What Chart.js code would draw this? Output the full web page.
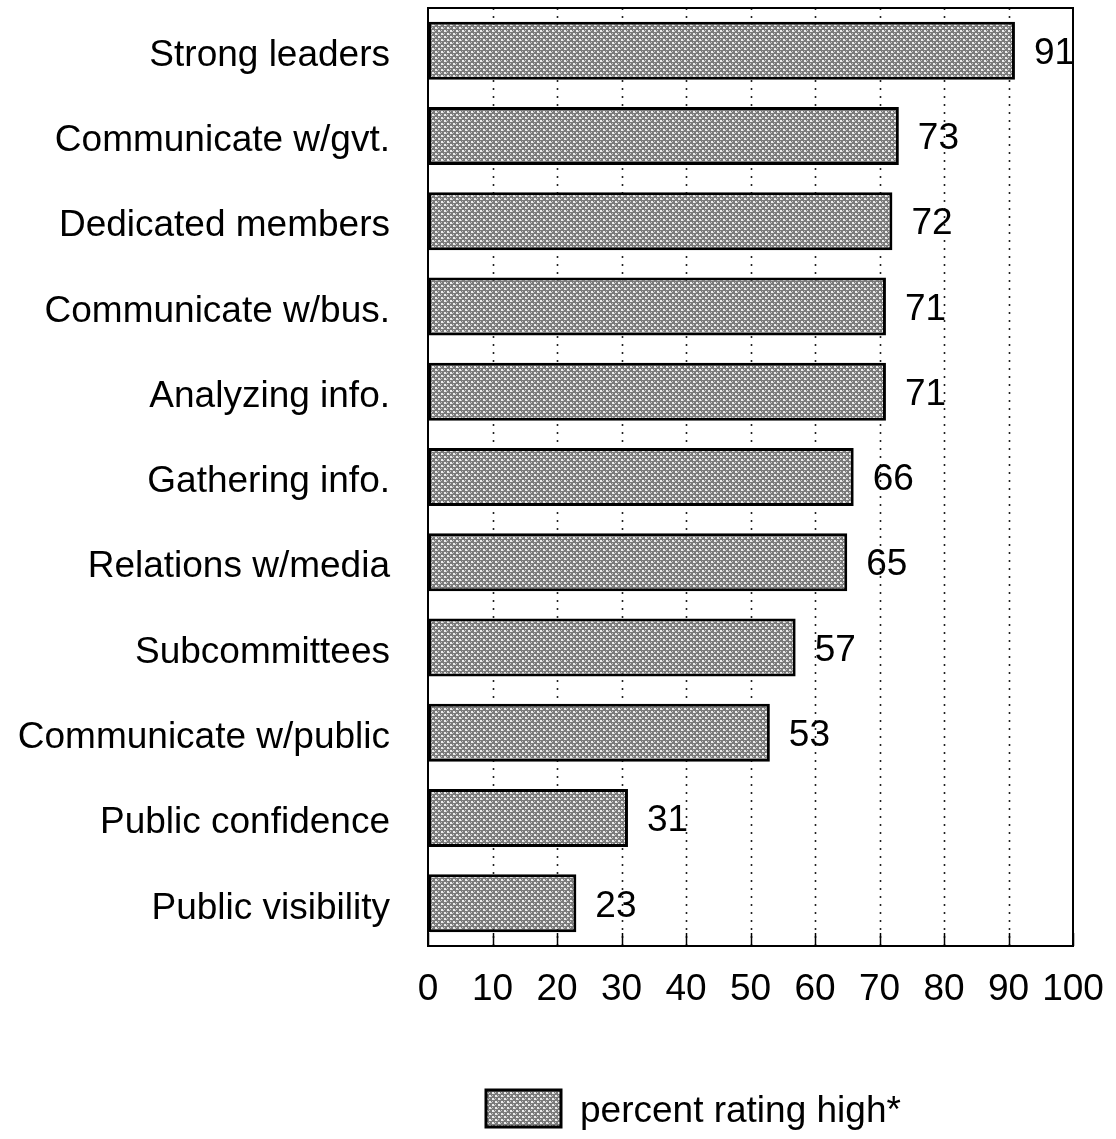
<!DOCTYPE html>
<html>
<head>
<meta charset="utf-8">
<script src="https://cdn.jsdelivr.net/npm/chart.js@4.4.0/dist/chart.umd.min.js"></script>
<style>
  html, body { margin: 0; padding: 0; background: #fff; }
  canvas { display: block; }
</style>
</head>
<body>
<canvas id="ratingChart" width="1116" height="1139"></canvas>
<script>
"use strict";

let categories = [
    "Strong leaders",
    "Communicate w/gvt.",
    "Dedicated members",
    "Communicate w/bus.",
    "Analyzing info.",
    "Gathering info.",
    "Relations w/media",
    "Subcommittees",
    "Communicate w/public",
    "Public confidence",
    "Public visibility"
];
let percentHigh = [91, 73, 72, 71, 71, 66, 65, 57, 53, 31, 23];
let xTicks = [0, 10, 20, 30, 40, 50, 60, 70, 80, 90, 100];
let seriesLabel = "percent rating high*";

let fontFamily = "'Liberation Sans', Arial, Helvetica, sans-serif";
let fontSize = 37;

// halftone grey used for the bars and the legend swatch
function MakeHalftone() {
    let tile = document.createElement("canvas");
    tile.width = 6;
    tile.height = 6;
    let t = tile.getContext("2d");
    t.fillStyle = "#7a7a7a";
    t.fillRect(0, 0, 6, 6);
    t.fillStyle = "#ececec";
    t.fillRect(0, 0, 2, 2);
    t.fillRect(3, 3, 2, 2);
    t.fillStyle = "#c4c4c4";
    t.fillRect(3, 0, 1, 1);
    t.fillRect(0, 3, 1, 1);
    t.fillRect(2, 1, 1, 1);
    t.fillRect(5, 4, 1, 1);
    return document.getElementById("ratingChart").getContext("2d").createPattern(tile, "repeat");
}

let halftone = MakeHalftone();

// dotted verticals, plot frame, inner tick marks, value labels and legend
let decorations = {
    id: "decorations",
    beforeDatasetsDraw(chart) {
        let ctx = chart.ctx;
        let area = chart.chartArea;
        let x = chart.scales.x;
        ctx.save();
        ctx.strokeStyle = "#222";
        ctx.lineWidth = 1.6;
        ctx.setLineDash([2, 6]);
        xTicks.forEach(v => {
            if (v === 0 || v === 100) return;
            let px = Math.round(x.getPixelForValue(v)) + 0.5;
            ctx.beginPath();
            ctx.moveTo(px, area.top);
            ctx.lineTo(px, area.bottom);
            ctx.stroke();
        });
        ctx.restore();
    },
    afterDatasetsDraw(chart) {
        let ctx = chart.ctx;
        let area = chart.chartArea;
        let x = chart.scales.x;
        ctx.save();
        ctx.strokeStyle = "#000";
        ctx.lineWidth = 2;
        ctx.strokeRect(area.left, area.top, area.right - area.left, area.bottom - area.top);

        ctx.lineWidth = 1.5;
        xTicks.forEach(v => {
            let px = Math.round(x.getPixelForValue(v)) + 0.5;
            ctx.beginPath();
            ctx.moveTo(px, area.bottom);
            ctx.lineTo(px, area.bottom - 13);
            ctx.stroke();
        });

        ctx.fillStyle = "#000";
        ctx.font = fontSize + "px " + fontFamily;
        ctx.textAlign = "left";
        ctx.textBaseline = "middle";
        let meta = chart.getDatasetMeta(0);
        meta.data.forEach((bar, i) => {
            ctx.fillText(String(percentHigh[i]), bar.x + 19, bar.y + 3);
        });

        // legend swatch and label
        ctx.fillStyle = halftone;
        ctx.fillRect(486, 1090, 75, 37);
        ctx.lineWidth = 3;
        ctx.strokeRect(486, 1090, 75, 37);
        ctx.fillStyle = "#000";
        ctx.fillText(seriesLabel, 580, 1112);
        ctx.restore();
    }
};

let ctx = document.getElementById("ratingChart").getContext("2d");

window.ratingChart = new Chart(ctx, {
    type: "bar",
    data: {
        labels: categories,
        datasets: [{
            label: seriesLabel,
            data: percentHigh,
            backgroundColor: halftone,
            borderColor: "#000",
            borderWidth: 3,
            borderSkipped: false,
            barPercentage: 0.68,
            categoryPercentage: 1.0
        }]
    },
    options: {
        indexAxis: "y",
        responsive: false,
        animation: false,
        layout: {
            padding: { top: 8, right: 43, bottom: 0, left: 0 }
        },
        plugins: {
            legend: { display: false },
            tooltip: { enabled: false }
        },
        scales: {
            x: {
                min: 0,
                max: 100,
                afterFit: scale => {
                    scale.height = 193;
                    scale.paddingLeft = 0;
                    scale.paddingRight = 0;
                    scale.paddingTop = 0;
                    scale.paddingBottom = 0;
                },
                afterBuildTicks: scale => { scale.ticks = xTicks.map(v => ({ value: v })); },
                grid: { display: false },
                border: { display: false },
                ticks: {
                    color: "#000",
                    padding: 14,
                    maxRotation: 0,
                    autoSkip: false,
                    font: { family: fontFamily, size: fontSize }
                }
            },
            y: {
                afterFit: scale => {
                    scale.width = 428;
                    scale.paddingLeft = 0;
                    scale.paddingRight = 0;
                    scale.paddingTop = 0;
                    scale.paddingBottom = 0;
                },
                grid: { display: false },
                border: { display: false },
                ticks: {
                    color: "#000",
                    padding: 30,
                    labelOffset: 5,
                    autoSkip: false,
                    font: { family: fontFamily, size: fontSize }
                }
            }
        }
    },
    plugins: [decorations]
});
</script>
</body>
</html>
